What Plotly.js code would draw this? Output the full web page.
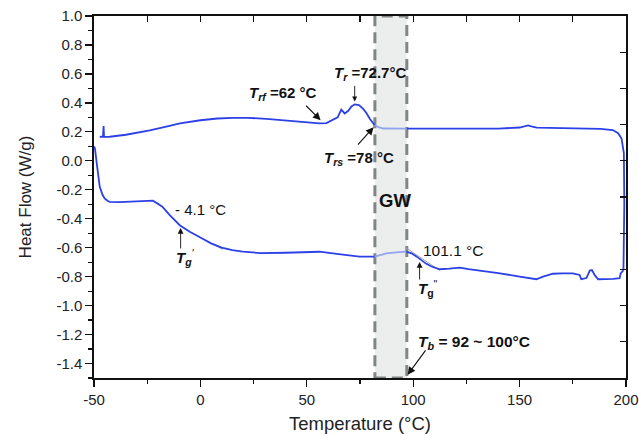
<!DOCTYPE html>
<html>
<head>
<meta charset="utf-8">
<script src="https://cdn.plot.ly/plotly-3.0.1.min.js"></script>
<style>html,body{margin:0;padding:0;background:#fff;}#chart{width:639px;height:435px;}</style>
</head>
<body>
<div id="chart"></div>
<script>
// Upper curve (first section, before the grey window)
const upperX = [-47.3, -45.8, -45.5, -45.3, -44.8, -42.6, -35, -23.8, -15, -9.6, 0, 8, 15.3, 22, 31, 40, 46.6, 52, 56, 59.2, 62.2, 64.5, 66.2, 67.8, 69.5, 71, 72.5, 74.5, 76.4, 78, 79.6, 81.9];
const upperY = [0.166, 0.165, 0.24, 0.168, 0.165, 0.166, 0.18, 0.21, 0.24, 0.258, 0.28, 0.292, 0.297, 0.297, 0.29, 0.28, 0.27, 0.262, 0.258, 0.26, 0.28, 0.30, 0.354, 0.327, 0.345, 0.375, 0.39, 0.385, 0.36, 0.33, 0.29, 0.246];
// Upper curve inside the grey window (lighter)
const upperGwX = [81.9, 84, 86, 90, 94, 97];
const upperGwY = [0.246, 0.23, 0.223, 0.222, 0.222, 0.222];
// Upper curve after the window, down to the end drop
const upperEndX = [97, 110, 125, 140, 150, 152.5, 154, 155.5, 158, 170, 181, 188, 193.8, 196.3, 197.9, 199, 199.2, 198.8];
const upperEndY = [0.222, 0.222, 0.22, 0.222, 0.23, 0.238, 0.245, 0.238, 0.229, 0.226, 0.224, 0.22, 0.212, 0.19, 0.154, 0.053, -0.3, -0.755];

// Lower curve
const lowerX = [-49.9, -49.5, -48.9, -48, -47.3, -46, -45, -43.5, -42.6, -38, -31.6, -26, -22.3, -18, -14.4, -9.7, -5, 0, 5, 10, 15, 20, 28, 40, 50, 56, 65, 74.8, 81.9];
const lowerY = [0.1, 0.08, 0.005, -0.1, -0.18, -0.235, -0.26, -0.278, -0.283, -0.285, -0.283, -0.28, -0.275, -0.315, -0.375, -0.445, -0.49, -0.53, -0.57, -0.6, -0.617, -0.627, -0.637, -0.635, -0.632, -0.628, -0.645, -0.662, -0.662];
const lowerGwX = [81.9, 84, 87.4, 92, 96.8];
const lowerGwY = [-0.662, -0.655, -0.639, -0.632, -0.627];
const lowerEndX = [96.8, 99.2, 101.5, 103.9, 106, 108.6, 110.5, 112.5, 117, 121.9, 126, 129.7, 140, 150, 154, 157.9, 161, 165.6, 170, 175, 178.2, 179, 181.4, 183, 184, 185.3, 186.9, 189, 194, 197, 197.5, 198.8];
const lowerEndY = [-0.627, -0.639, -0.66, -0.69, -0.71, -0.73, -0.742, -0.749, -0.745, -0.738, -0.748, -0.754, -0.775, -0.8, -0.81, -0.818, -0.8, -0.78, -0.777, -0.777, -0.788, -0.818, -0.81, -0.758, -0.755, -0.79, -0.818, -0.818, -0.815, -0.81, -0.777, -0.755];

// Tangent construction lines
const tan1X = [4, 10.5];
const tan1Y = [-0.562, -0.612];
const tan2X = [96.5, 112.5];
const tan2Y = [-0.6, -0.757];

// Grey window
const gwX = [82, 97];
const yRange = [-1.5, 1.0];
const xRange = [-50, 200];

// Tick labels
const xTickVals = [-50, 0, 50, 100, 150, 200];
const xTickText = ['-50', '0', '50', '100', '150', '200'];
const yTickVals = [-1.4, -1.2, -1.0, -0.8, -0.6, -0.4, -0.2, 0.0, 0.2, 0.4, 0.6, 0.8, 1.0];
const yTickText = ['-1.4', '-1.2', '-1.0', '-0.8', '-0.6', '-0.4', '-0.2', '0.0', '0.2', '0.4', '0.6', '0.8', '1.0'];

const blue = '#2b40e6';
const light = '#93a4ef';

const traces = [
  {x: tan1X, y: tan1Y, mode: 'lines', line: {color: '#9aa0a6', width: 1}, hoverinfo: 'skip'},
  {x: tan2X, y: tan2Y, mode: 'lines', line: {color: '#9aa0a6', width: 1}, hoverinfo: 'skip'},
  {x: upperX, y: upperY, mode: 'lines', line: {color: blue, width: 1.8}},
  {x: upperGwX, y: upperGwY, mode: 'lines', line: {color: light, width: 1.8}},
  {x: upperEndX, y: upperEndY, mode: 'lines', line: {color: blue, width: 1.8}},
  {x: lowerX, y: lowerY, mode: 'lines', line: {color: blue, width: 1.8}},
  {x: lowerGwX, y: lowerGwY, mode: 'lines', line: {color: light, width: 1.8}},
  {x: lowerEndX, y: lowerEndY, mode: 'lines', line: {color: blue, width: 1.8}},
  {x: xRange, y: yRange, xaxis: 'x2', yaxis: 'y2', mode: 'markers', marker: {opacity: 0}, hoverinfo: 'skip'}
];

const F = 'Liberation Sans, Arial, sans-serif';
const txt = (x, y, text, size) => ({x, y, xref: 'x', yref: 'y', text, showarrow: false, font: {family: F, size: size || 14, color: '#111'}});
const arr = (x, y, ax, ay, w, s) => ({x, y, xref: 'x', yref: 'y', ax, ay, text: '', showarrow: true, arrowhead: 2, arrowsize: s || 1.3, arrowwidth: w || 1.1, arrowcolor: '#111'});

const annotations = [
  txt(38.7, 0.467, '<b><i>T</i></b><b><i><sub>rf</sub></i></b><b> =62 °C</b>', 15),
  txt(79.8, 0.605, '<b><i>T</i></b><b><i><sub>r</sub></i></b><b> =72.7°C</b>', 15),
  txt(74.4, 0.019, '<b><i>T</i></b><b><i><sub>rs</sub></i></b><b> =78 °C</b>', 15),
  txt(91.3, -0.271, '<b>GW</b>', 18.5),
  txt(-0.1, -0.333, '- 4.1 °C', 15),
  txt(-7.1, -0.67, "<b><i>T</i></b><b><i><sub>g</sub></i></b><i><sup>'</sup></i>", 15),
  txt(118.8, -0.616, '101.1 °C', 15.5),
  txt(107, -0.879, '<b><i>T</i></b><b><sub>g</sub></b><sup>"</sup>', 15),
  txt(128.7, -1.257, '<b><i>T</i></b><b><i><sub>b</sub></i></b><b> = 92 ~ 100°C</b>', 15.5),
  arr(56.5, 0.28, -16, -16, 1.1, 1.4),
  arr(72.5, 0.41, 0, -17, 0.9, 1.1),
  arr(81.4, 0.232, -17, 19, 1.1, 1.4),
  arr(-9.3, -0.464, 0, 22, 0.9, 1.3),
  arr(103, -0.699, 0, 19, 0.9, 1.3),
  arr(97.4, -1.478, 19, -26, 1.1, 1.4)
];

const shapes = [
  {type: 'rect', xref: 'x', yref: 'y', x0: gwX[0], x1: gwX[1], y0: yRange[0], y1: yRange[1],
   fillcolor: '#eceeed', line: {color: '#7f8685', width: 3, dash: '11px,6px'}, layer: 'below'}
];

const layout = {
  width: 639, height: 435,
  margin: {l: 94, r: 13, t: 16, b: 57},
  paper_bgcolor: '#fff', plot_bgcolor: '#fff',
  showlegend: false,
  font: {family: F, color: '#222'},
  xaxis: {
    range: xRange, tickmode: 'array', tickvals: xTickVals, ticktext: xTickText,
    ticks: 'outside', ticklen: 7, tickwidth: 1.3, tickcolor: '#111',
    minor: {dtick: 25, ticks: 'outside', ticklen: 4, tickwidth: 1.2, tickcolor: '#111'},
    showline: true, linecolor: '#111', linewidth: 1.6, zeroline: false, showgrid: false,
    tickfont: {family: F, size: 15, color: '#222'},
    title: {text: 'Temperature (°C)', font: {family: F, size: 18.5, color: '#222'}, standoff: 10}
  },
  yaxis: {
    range: yRange, tickmode: 'array', tickvals: yTickVals, ticktext: yTickText,
    ticks: 'outside', ticklen: 7, tickwidth: 1.3, tickcolor: '#111',
    minor: {dtick: 0.1, ticks: 'outside', ticklen: 4, tickwidth: 1.2, tickcolor: '#111'},
    showline: true, linecolor: '#111', linewidth: 1.6, zeroline: false, showgrid: false,
    tickfont: {family: F, size: 15, color: '#222'},
    title: {text: 'Heat Flow (W/g)', font: {family: F, size: 17, color: '#222'}, standoff: 20}
  },
  xaxis2: {
    overlaying: 'x', side: 'top', range: xRange, dtick: 25, tick0: 0, ticks: 'inside', ticklen: 6, tickwidth: 1.2, tickcolor: '#111',
    showticklabels: false, showline: true, linecolor: '#111', linewidth: 1.6, zeroline: false, showgrid: false
  },
  yaxis2: {
    overlaying: 'y', side: 'right', range: yRange, dtick: 0.25, tick0: 0, ticks: 'inside', ticklen: 6, tickwidth: 1.2, tickcolor: '#111',
    showticklabels: false, showline: true, linecolor: '#111', linewidth: 1.6, zeroline: false, showgrid: false
  },
  shapes, annotations
};

Plotly.newPlot('chart', traces, layout, {displayModeBar: false, staticPlot: true});
</script>
</body>
</html>
